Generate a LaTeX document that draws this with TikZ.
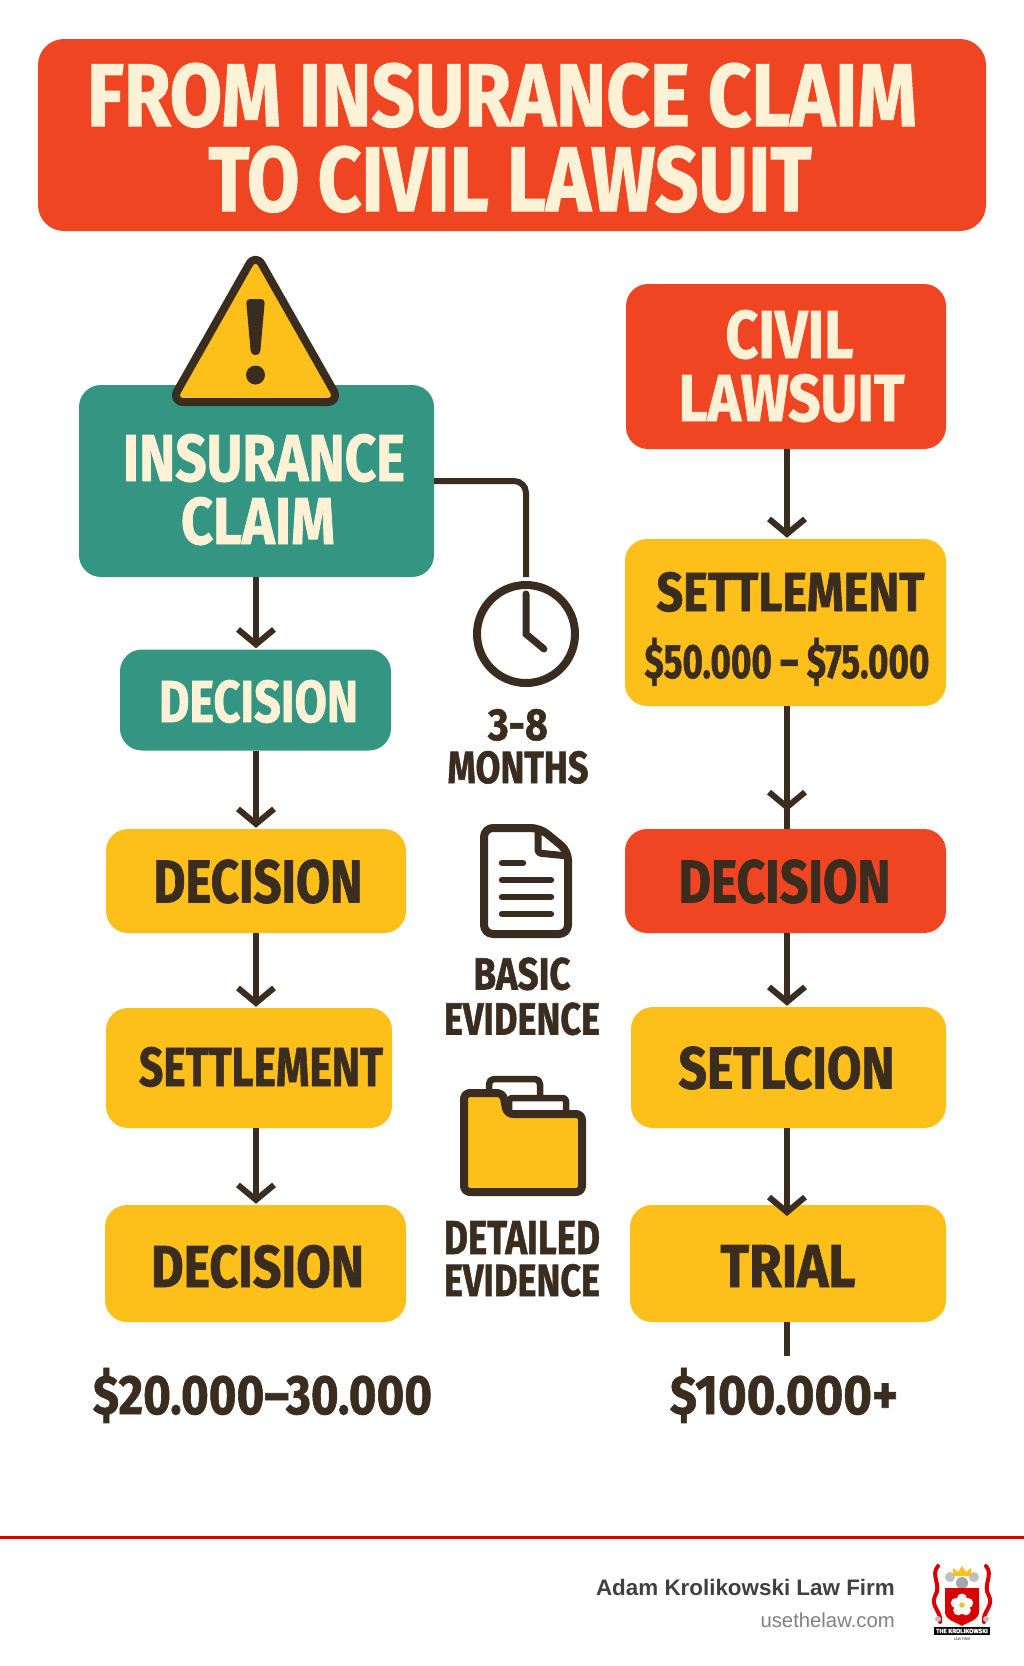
\documentclass[tikz,border=0pt]{standalone}
\usepackage{fontspec}
\usepackage{graphicx}
\setmainfont[BoldFeatures={FakeBold=1.3}]{Fira Sans}
\newfontfamily\footfont{Liberation Sans}
\usetikzlibrary{arrows.meta}
\definecolor{hotred}{HTML}{F04523}
\definecolor{sea}{HTML}{339582}
\definecolor{amber}{HTML}{FDBF1A}
\definecolor{cream}{HTML}{FDF1D6}
\definecolor{ink}{HTML}{3A2D20}
% dx, dy, width, height, text
\newcommand{\fitword}[5]{\hspace*{#1pt}\raisebox{#2pt}[#4pt][0pt]{\resizebox{#3pt}{#4pt}{\bfseries #5}}}
\tikzset{
	card/.style={inner sep=0pt,rounded corners=22pt,align=center,font=\fontsize{10}{0}\selectfont},
	redcard/.style={card,fill=hotred,text=cream},
	seacard/.style={card,fill=sea,text=cream},
	ambercard/.style={card,fill=amber,text=ink},
	sidetext/.style={inner sep=0pt,align=center,text=ink,font=\fontsize{10}{0}\selectfont},
	plain/.style={line width=6pt,color=ink},
	flow/.style={plain,-{Straight Barb[length=15pt,width=36pt]},shorten >=1pt},
	icon/.style={line width=8pt,color=ink,line join=round}
}
\begin{document}
\begin{tikzpicture}[x=1pt,y=-1pt]
	\useasboundingbox (0,0) rectangle (1024,1666);
	\coordinate (spinel) at (256,0);
	\coordinate (spiner) at (787,0);
	% title
	\node[redcard,rounded corners=26pt,minimum width=948pt,minimum height=192pt] (title) at (512,135)
		{\fitword{-20}{-2}{830}{63}{FROM INSURANCE CLAIM}\\[19pt]\fitword{-4}{-2}{603}{65}{TO CIVIL LAWSUIT}};
	% left column
	\node[seacard,minimum width=355pt,minimum height=192pt] (claim) at (256.5,481)
		{\fitword{15}{-8}{282}{47}{INSURANCE}\\[15pt]\fitword{3}{-8}{154}{47}{CLAIM}};
	\node[seacard,minimum width=271pt,minimum height=101pt] (decisiona) at (255.5,700)
		{\fitword{6}{-1}{199}{42}{DECISION}};
	\node[ambercard,minimum width=300pt,minimum height=104pt] (decisionb) at (256,881)
		{\fitword{4}{0}{209}{43}{DECISION}};
	\node[ambercard,minimum width=286pt,minimum height=120pt] (settlel) at (249,1068)
		{\fitword{24}{1.5}{244}{39}{SETTLEMENT}};
	\node[ambercard,minimum width=301pt,minimum height=117pt] (decisionc) at (255.5,1263.5)
		{\fitword{4}{-2.5}{213}{42}{DECISION}};
	\node[sidetext] (sumleft) at (262.5,1394) {\fitword{0}{3}{339}{46}{\$20.000–30.000}};
	% right column
	\node[redcard,minimum width=320pt,minimum height=165pt] (civil) at (786,366.5)
		{\fitword{7}{1}{128}{48}{CIVIL}\\[15pt]\fitword{11}{1}{226}{47}{LAWSUIT}};
	\node[ambercard,minimum width=321pt,minimum height=167pt] (settler) at (785.5,622.5)
		{\fitword{10}{-2.5}{268}{39}{SETTLEMENT}\\[26pt]\fitword{3}{-2.5}{285}{40}{\$50.000 – \$75.000}};
	\node[redcard,text=ink,minimum width=321pt,minimum height=104pt] (decisiond) at (785.5,881)
		{\fitword{-2}{0}{212}{43}{DECISION}};
	\node[ambercard,minimum width=315pt,minimum height=121pt] (setlcion) at (788.5,1067.5)
		{\fitword{-4}{0}{216}{42}{SETLCION}};
	\node[ambercard,minimum width=316pt,minimum height=117pt] (trial) at (788,1263.5)
		{\fitword{0}{-2.5}{135}{42}{TRIAL}};
	\node[sidetext] (sumright) at (784,1394) {\fitword{0}{3}{228}{46}{\$100.000+}};
	\coordinate (tipa) at (787,811);
	\coordinate (tipb) at (787,1216);
	\coordinate (tail) at (787,1356);
	% connectors
	\draw[flow] (claim.south -| spinel)--(decisiona.north -| spinel);
	\draw[flow] (decisiona.south -| spinel)--(decisionb.north -| spinel);
	\draw[flow] (decisionb.south -| spinel)--(settlel.north -| spinel);
	\draw[flow] (settlel.south -| spinel)--(decisionc.north -| spinel);
	\draw[flow] (civil.south -| spiner)--(settler.north -| spiner);
	\draw[plain] (settler.south -| spiner)--(decisiond.north -| spiner);
	\draw[flow,shorten >=0pt] (settler.south -| spiner)--(tipa);
	\draw[flow] (decisiond.south -| spiner)--(setlcion.north -| spiner);
	\draw[flow,shorten >=0pt] (setlcion.south -| spiner)--(tipb);
	\draw[plain] (trial.south -| spiner)--(tail);
	% warning sign
	\draw[icon,fill=amber,rounded corners=13pt] (255.5,253)--(340,402)--(171,402)--cycle;
	\fill[ink,rounded corners=4pt] (246,299)--(265,299)--(260,355)--(251,355)--cycle;
	\fill[ink] (255.5,375) circle(9.5pt);
	% clock
	\node[circle,draw=ink,line width=8pt,minimum size=98pt,inner sep=0pt] (clock) at (526,634) {};
	\draw[plain,rounded corners=12pt,shorten >=4pt] (claim.east)-|(clock.north);
	\draw[icon,line width=7pt,line cap=round,line join=miter] (526,594)--(clock.center)--(544,649);
	\node[sidetext] (months) at (518,746) {\fitword{0}{0}{60}{31}{3-8}\\[10pt]\fitword{0}{0}{141}{32}{MONTHS}};
	% document
	\draw[icon,fill=white,rounded corners=9pt] (484,828)--(540,828)--(568,851)--(568,934)--(484,934)--cycle;
	\draw[icon,line width=7pt,rounded corners=3pt] (538,828)--(538,853)--(568,856);
	\foreach \ly/\lx in {863/523,880/551,897/551,914/551}
		\draw[icon,line width=6.5pt,line cap=round] (502,\ly)--(\lx,\ly);
	\node[sidetext] (basic) at (522,996) {\fitword{0}{0}{97}{32}{BASIC}\\[12pt]\fitword{0}{0}{156}{32}{EVIDENCE}};
	% folder
	\draw[icon,line width=6.5pt,rounded corners=5pt] (489,1096)--(489,1079)--(540,1079)--(540,1096);
	\draw[icon,line width=6.5pt,fill=white,rounded corners=3pt] (509,1098) rectangle (566,1116);
	\draw[icon,fill=amber,rounded corners=6pt] (464,1093)--(503,1093)--(507,1114)--(582,1114)--(582,1192)--(464,1192)--cycle;
	\node[sidetext] (detailed) at (522,1258.5) {\fitword{0}{0}{156}{33}{DETAILED}\\[9pt]\fitword{0}{0}{156}{32}{EVIDENCE}};
	% footer
	\draw[color=red!90!black,line width=3pt] (0,1537)--(1024,1537);
	\node[anchor=base east,inner sep=0pt,text=black!75,font=\footfont\bfseries\fontsize{22.4}{24}\selectfont] (firm) at (895,1595) {Adam Krolikowski Law Firm};
	\node[anchor=base east,inner sep=0pt,text=black!50,font=\footfont\fontsize{20.3}{21}\selectfont] (site) at (895,1627) {usethelaw.com};
	% crest
	\foreach \sx in {-1,1}{
		\draw[red!85!black,line width=4pt,line cap=round] (962+\sx*24,1566) .. controls (962+\sx*32,1575) and (962+\sx*20,1585) .. (962+\sx*27,1596) .. controls (962+\sx*32,1606) and (962+\sx*20,1612) .. (962+\sx*22,1622);
		\fill[black!25] (962+\sx*12,1577) circle(5pt);
		\fill[black!25] (962+\sx*24,1619) circle(3pt);
	}
	\fill[amber] (953,1576)--(953,1568)--(958,1572)--(962,1566)--(966,1572)--(971,1568)--(971,1576)--cycle;
	\fill[black!35] (962,1583) circle(6pt);
	\fill[red!85!black] (945,1588)--(979,1588)--(979,1612) .. controls (979,1620) and (968,1622) .. (962,1626) .. controls (956,1622) and (945,1620) .. (945,1612)--cycle;
	\foreach \pa in {90,162,234,306,18}
		\fill[white] (962,1605)++(\pa:6.5pt) circle(5pt);
	\fill[amber] (962,1605) circle(2.7pt);
	\node[fill=black,inner xsep=2pt,inner ysep=1.5pt,text=white,font=\bfseries\fontsize{6.2}{7}\selectfont] (banner) at (962,1631) {THE KROLIKOWSKI};
	\node[inner sep=0pt,text=ink,font=\fontsize{3.8}{4}\selectfont] (lawfirm) at (962,1639) {LAW FIRM};
\end{tikzpicture}
\end{document}
